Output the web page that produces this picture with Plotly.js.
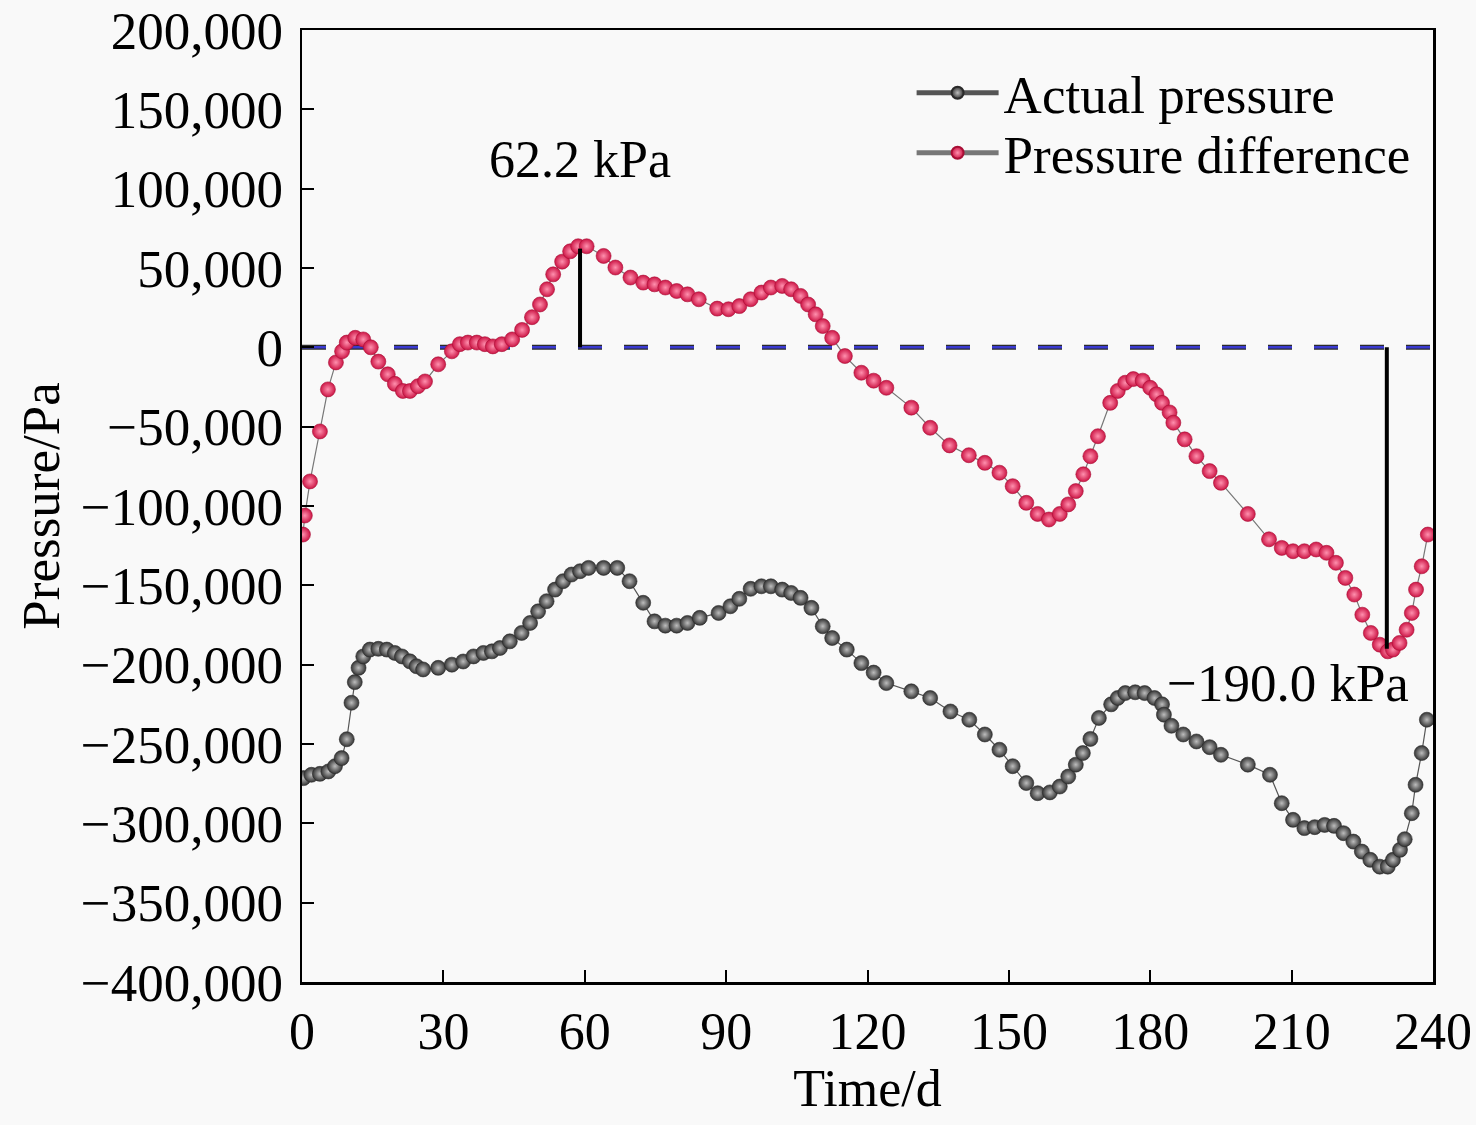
<!DOCTYPE html>
<html>
<head>
<meta charset="utf-8">
<script src="https://cdn.plot.ly/plotly-3.0.1.min.js"></script>
<style>
  html, body { margin: 0; padding: 0; background: #f9f9f9; }
  #chart { width: 1476px; height: 1125px; }
</style>
</head>
<body>
<div id="chart"></div>
<script>
// Values (time in days, pressure in Pa)
const daysActual = [0.3, 2, 3.8, 5.6, 7, 8.4, 9.5, 10.5, 11.2, 12, 13, 14.4, 16.2, 18, 19.7, 21.2, 22.9, 24.3, 25.7,
  28.9, 31.8, 34.2, 36.4, 38.5, 40.3, 42, 44.1, 46.6, 48.4, 50.1, 51.9, 53.7, 55.4, 57.2, 59, 60.8, 64, 66.9,
  69.5, 72.4, 74.8, 77.1, 79.5, 81.8, 84.4, 88.4, 90.9, 92.8, 95.2, 97.5, 99.5, 101.9, 103.8, 105.8, 108.1,
  110.5, 112.5, 115.6, 118.7, 121.3, 124, 129.3, 133.3, 137.6, 141.6, 144.9, 148, 150.8, 153.7, 156.1, 158.7,
  160.8, 162.6, 164.2, 165.7, 167.3, 169.1, 171.7, 173.1, 174.7, 176.8, 178.8, 180.9, 182.5, 182.9, 184.5,
  187, 189.8, 192.6, 195, 200.7, 205.4, 207.9, 210.3, 212.7, 214.9, 217, 219, 221, 223.1, 224.9, 226.7,
  228.7, 230.4, 231.5, 233, 234, 235.5, 236.3, 237.6, 238.7];
const actualPressure = [-271500, -269400, -268800, -267300, -264000, -258900, -247000, -224000, -211000, -202000,
  -194800, -190500, -190000, -190500, -192600, -194800, -197900, -201000, -203000,
  -202000, -200000, -198000, -194800, -192600, -191600, -189500, -185300, -180000, -173700, -166400, -160000,
  -152700, -147400, -143200, -141100, -139000, -139000, -139000,
  -147400, -161000, -172700, -175400, -175400, -173700, -170500, -167400, -163200, -158500, -152200, -150600,
  -150600, -152700, -154800, -157900, -164200,
  -175800, -183200, -190500, -199000, -205000, -211600, -216800, -221000, -229500, -234700, -244000, -253600,
  -264000, -274600, -281000, -280500,
  -276800, -270500, -263000, -255700, -246800, -233600, -225000, -221000, -217900, -217400, -217900, -221000,
  -225000, -231500, -238500,
  -244000, -248400, -252000, -256800, -263000, -269400, -287300, -297800, -303000, -302400, -301000, -301600,
  -306200, -311500, -317800, -323000,
  -327300, -327300, -323000, -316700, -310000, -293600, -275700, -255700, -234700];

const daysDiff = [0.2, 0.6, 1.7, 3.8, 5.5, 7.2, 8.5, 9.5, 11.3, 13, 14.6, 16.2, 18.2, 19.7, 21.4, 22.9, 24.6, 26.1,
  28.9, 31.8, 33.5, 35.2, 37.1, 38.8, 40.5, 42.4, 44.6, 46.7, 48.8, 50.5, 52, 53.3, 55.2, 56.9, 58.6, 60.4,
  64, 66.5, 69.7, 72.4, 74.8, 77.1, 79.5, 81.8, 84.2, 88.1, 90.5, 92.8, 95.2, 97.5, 99.5, 101.9, 103.8, 105.8,
  107.4, 109, 110.5, 112.5, 115.2, 118.7, 121.3, 124, 129.3, 133.3, 137.4, 141.5, 144.9, 148, 150.8, 153.7,
  156.1, 158.5, 160.8, 162.6, 164.2, 165.8, 167.3, 168.9, 171.5, 173.1, 174.7, 176.4, 178.4, 180, 181.3,
  182.5, 184.1, 184.9, 187.3, 189.8, 192.6, 195, 200.7, 205.2, 207.9, 210.3, 212.7, 215.2, 217.4, 219.4,
  221.4, 223.3, 225, 226.8, 228.7, 230.4, 231.5, 232.9, 234.4, 235.5, 236.4, 237.6, 238.9];
const pressureDiff = [-118000, -106000, -84500, -53000, -26500, -9500, -2500, 3000, 6000, 5000, 0, -9000, -17000,
  -23000, -27500, -27500, -24500, -21500,
  -10700, -2500, 2000, 3000, 3000, 2000, 600, 2000, 5000, 11000, 19000, 27000, 36600, 46000, 54000, 60500,
  63700, 63700,
  57600, 50300, 44000, 40800, 39700, 37700, 35500, 33400, 30300, 24400, 24000, 26000, 30300, 34500, 37700,
  38700, 36600, 32400,
  27000, 20800, 13400, 6000, -5500, -16000, -21000, -25500, -38000, -50700, -61800, -68000, -72800, -79000,
  -87500, -98000,
  -105000, -108500, -105000, -99000, -90600, -80000, -68600, -56000, -35000, -27500, -22300, -20000, -21000,
  -25500, -29600,
  -35000, -41000, -47500, -58000, -68600, -78000, -85400, -105000, -121000, -126400, -128500, -128500,
  -127400, -129500, -135800,
  -145300, -155800, -168500, -180000, -187400, -191600, -190500, -186300, -178000, -167400, -152700,
  -138000, -118000];

const xTicks = [0, 30, 60, 90, 120, 150, 180, 210, 240];
const peakMark = { day: 59, value: 62200, label: "62.2 kPa" };
const troughMark = { day: 230.2, value: -190000, label: "\u2212190.0 kPa" };

const FONT = "Liberation Serif, Times New Roman, serif";
const BG = "#f9f9f9";

const traces = [
  {
    type: "scatter",
    mode: "lines+markers",
    name: "Actual pressure",
    legend: "legend",
    x: daysActual,
    y: actualPressure,
    line: { color: "#555555", width: 1.2 },
    marker: {
      size: 15,
      color: "#333333",
      gradient: { type: "radial", color: "#bdbdbd" },
      line: { color: "#2a2a2a", width: 0.6 },
    },
  },
  {
    type: "scatter",
    mode: "lines+markers",
    name: "Pressure difference",
    legend: "legend2",
    x: daysDiff,
    y: pressureDiff,
    line: { color: "#777777", width: 1.2 },
    marker: {
      size: 15,
      color: "#cc1545",
      gradient: { type: "radial", color: "#ff90ae" },
      line: { color: "#a80f36", width: 0.6 },
    },
  },
];

const axisBase = {
  showline: true,
  linecolor: "#000",
  linewidth: 2.5,
  mirror: true,
  ticks: "inside",
  ticklen: 12,
  tickwidth: 2,
  tickcolor: "#000",
  showgrid: false,
  zeroline: false,
  tickfont: { family: FONT, size: 52, color: "#000" },
};

const legendBase = {
  x: 0.539,
  xanchor: "left",
  yanchor: "middle",
  bgcolor: "rgba(0,0,0,0)",
  font: { family: FONT, size: 53, color: "#000" },
  itemwidth: 82,
  itemsizing: "constant",
};

const layout = {
  width: 1476,
  height: 1125,
  paper_bgcolor: BG,
  plot_bgcolor: BG,
  margin: { l: 302, r: 43, t: 30, b: 143 },
  font: { family: FONT, color: "#000" },
  xaxis: {
    ...axisBase,
    range: [0, 240],
    tickvals: xTicks,
    ticklabelstandoff: 2,
    title: { text: "Time/d", font: { family: FONT, size: 52, color: "#000" }, standoff: 4 },
  },
  yaxis: {
    ...axisBase,
    range: [-400000, 200000],
    dtick: 50000,
    tickformat: ",d",
    tickfont: { family: FONT, size: 53, color: "#000" },
    ticklabelstandoff: 6,
    title: { text: "Pressure/Pa", font: { family: FONT, size: 53, color: "#000" }, standoff: 4 },
  },
  legend: { ...legendBase, y: 0.934 },
  legend2: { ...legendBase, y: 0.871 },
  shapes: [
    // zero reference line: dark dash under a blue dash
    {
      type: "line", xref: "x", yref: "y", x0: 0, x1: 240, y0: 0, y1: 0,
      line: { color: "#2b2b2b", width: 5, dash: "24px,22px" }, layer: "below",
    },
    {
      type: "line", xref: "x", yref: "y", x0: 0, x1: 240, y0: 0, y1: 0,
      line: { color: "#3a3ad0", width: 2.5, dash: "24px,22px" }, layer: "below",
    },
    {
      type: "line", xref: "x", yref: "y",
      x0: peakMark.day, x1: peakMark.day, y0: 0, y1: peakMark.value,
      line: { color: "#000", width: 4 },
    },
    {
      type: "line", xref: "x", yref: "y",
      x0: troughMark.day, x1: troughMark.day, y0: 0, y1: troughMark.value,
      line: { color: "#000", width: 4 },
    },
  ],
  annotations: [
    {
      x: peakMark.day, y: 118600, xref: "x", yref: "y",
      text: peakMark.label, showarrow: false, xanchor: "center", yanchor: "middle",
      font: { family: FONT, size: 52, color: "#000" },
    },
    {
      x: 235.4, y: -211500, xref: "x", yref: "y",
      text: troughMark.label, showarrow: false, xanchor: "right", yanchor: "middle",
      font: { family: FONT, size: 53, color: "#000" },
    },
  ],
  showlegend: true,
};

Plotly.newPlot("chart", traces, layout, { displayModeBar: false, staticPlot: true });
</script>
</body>
</html>
